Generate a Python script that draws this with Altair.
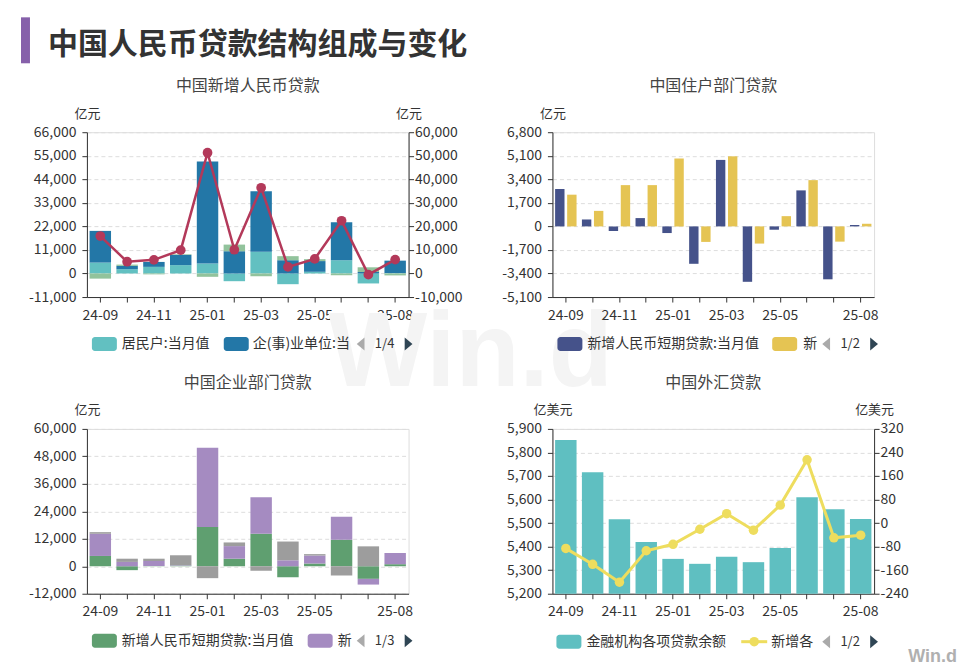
import json
import altair as alt
import pandas as pd

FONT = "Noto Sans CJK SC"
TXT = "#333333"

# ---------------- data ----------------
months = ["24-09", "24-10", "24-11", "24-12", "25-01", "25-02",
          "25-03", "25-04", "25-05", "25-06", "25-07", "25-08"]
label_months = ["24-09", "24-11", "25-01", "25-03", "25-05", "25-08"]

# Panel 1: 中国新增人民币贷款 (亿元)
p1_title = "中国新增人民币贷款"
p1_names = ["居民户:当月值", "企(事)业单位:当月值", "非银行业金融机构:当月值"]
p1_household = [5100, 2000, 3100, 3900, 4650, -3600, 10200, -5000, 800, 6200, -4650, 200]
p1_corporate = [14800, 1550, 2300, 4800, 47700, 10400, 28200, 6200, 5000, 17700, 700, 5800]
p1_nonbank = [-2400, 600, -400, 300, -1550, 3100, -1250, 1900, 900, -800, 2200, -900]
p1_total_name = "新增人民币贷款:当月值"
p1_total = [15900, 5000, 5800, 9900, 51300, 10100, 36400, 2800, 6200, 22400, -500, 5900]
p1_left_ticks = [-11000, 0, 11000, 22000, 33000, 44000, 55000, 66000]
p1_right_ticks = [-10000, 0, 10000, 20000, 30000, 40000, 50000, 60000]
p1_colors = ["#62c0c1", "#2377a7", "#92c39c"]
p1_line_color = "#b3395a"

# Panel 2: 中国住户部门贷款 (亿元)
p2_title = "中国住户部门贷款"
p2_names = ["新增人民币短期贷款:当月值", "新增人民币中长期贷款:当月值"]
p2_short = [2700, 500, -330, 600, -480, -2700, 4800, -4000, -240, 2600, -3820, 100]
p2_long = [2290, 1120, 2980, 2980, 4910, -1120, 5060, -1240, 740, 3340, -1100, 190]
p2_ticks = [-5100, -3400, -1700, 0, 1700, 3400, 5100, 6800]
p2_colors = ["#45528a", "#e5c453"]

# Panel 3: 中国企业部门贷款 (亿元)
p3_title = "中国企业部门贷款"
p3_names = ["新增人民币短期贷款:当月值", "新增人民币中长期贷款:当月值", "票据融资:当月值"]
p3_short = [4500, -1700, 100, 300, 17200, 3300, 14200, -4800, 1200, 11600, -5500, 900]
p3_long = [9700, 1900, 2200, 200, 34600, 5500, 15900, 2600, 3500, 10000, -2500, 4900]
p3_bill = [700, 1400, 1000, 4300, -5200, 1600, -2000, 8200, 600, -4000, 8700, 0]
p3_ticks = [-12000, 0, 12000, 24000, 36000, 48000, 60000]
p3_colors = ["#5f9f70", "#a58bc1", "#9d9d9d"]

# Panel 4: 中国外汇贷款 (亿美元)
p4_title = "中国外汇贷款"
p4_bar_name = "金融机构各项贷款余额"
p4_balance = [5853, 5716, 5516, 5420, 5348, 5327, 5357, 5334, 5394, 5610, 5559, 5517]
p4_line_name = "新增各项贷款"
p4_change = [-86, -140, -201, -94, -72, -21, 32, -24, 61, 215, -50, -41]
p4_left_ticks = [5200, 5300, 5400, 5500, 5600, 5700, 5800, 5900]
p4_right_ticks = [-240, -160, -80, 0, 80, 160, 240, 320]
p4_bar_color = "#5fbfc1"
p4_line_color = "#eedd5e"

main_title = "中国人民币贷款结构组成与变化"

W, H = 322, 165
LABEL_EXPR = "indexof(" + json.dumps(label_months) + ", datum.value) >= 0 ? datum.value : ''"
MINUS_EXPR = "replace(datum.label, '\u2212', '-')"


# ---------------- helpers ----------------
def long_df(names, series):
    rows = []
    for k, (name, vals) in enumerate(zip(names, series)):
        for m, v in zip(months, vals):
            rows.append({"month": m, "series": name, "value": v, "order": k})
    return pd.DataFrame(rows)


def xenc():
    return alt.X(
        "month:N",
        title=None,
        scale=alt.Scale(domain=months, paddingInner=0.2, paddingOuter=0.1),
        axis=alt.Axis(labelExpr=LABEL_EXPR, labelAngle=0, labelOverlap=False,
                      labelColor=TXT, labelFontSize=14, labelPadding=6,
                      domainColor=TXT, tickColor=TXT, tickSize=5, grid=False),
    )


def yaxis(values, orient, title, grid=True):
    return alt.Axis(values=values, orient=orient, format=",.0f", labelExpr=MINUS_EXPR,
                    title=title,
                    titleAngle=0, titleX=0, titleY=-19, titleAlign="center",
                    titleBaseline="middle", titleFontSize=13, titleFontWeight="normal",
                    titleColor=TXT, grid=grid, gridDash=[4, 3], gridColor="#dddddd",
                    domainColor=TXT, tickColor=TXT, tickSize=5,
                    labelColor=TXT, labelFontSize=14,
                    labelPadding=6 if orient == "left" else 1)


def one():
    return alt.Data(values=[{"k": 0}])


def label(text, x, y, size=14, color=TXT, align="left", weight="normal",
          baseline="middle", font=FONT):
    return alt.Chart(one()).mark_text(
        text=text, align=align, baseline=baseline, fontSize=size,
        fontWeight=weight, color=color, font=font,
    ).encode(x=alt.value(x), y=alt.value(y))


def swatch(x, y, color):
    return alt.Chart(one()).mark_rect(color=color, cornerRadius=3).encode(
        x=alt.value(x), x2=alt.value(x + 25), y=alt.value(y - 7), y2=alt.value(y + 7))


TRI_L = "M 0.6 -1 L -0.6 0 L 0.6 1 Z"
TRI_R = "M -0.6 -1 L 0.6 0 L -0.6 1 Z"


def arrow(x, y, path, color):
    return alt.Chart(one()).mark_point(shape=path, filled=True, size=169,
                                       color=color, opacity=1).encode(
        x=alt.value(x), y=alt.value(y))


def pager(y, text):
    return [arrow(274, y, TRI_L, "#aaaaaa"), label(text, 298, y, size=13, align="center"),
            arrow(322, y, TRI_R, "#2f4554")]


def panel_title(text):
    return label(text, W / 2, -46, size=16, color="#444444", align="center")


# ---------------- panel 1 ----------------
df1 = long_df(p1_names, [p1_household, p1_corporate, p1_nonbank])
bars1 = alt.Chart(df1).mark_bar().encode(
    x=xenc(),
    y=alt.Y("value:Q", stack="zero",
            scale=alt.Scale(domain=[-11000, 66000], nice=False, zero=False),
            axis=yaxis(p1_left_ticks, "left", "亿元")),
    color=alt.Color("series:N", scale=alt.Scale(domain=p1_names, range=p1_colors), legend=None),
    order=alt.Order("order:Q", sort="ascending"),
)
df1l = pd.DataFrame({"month": months, "value": p1_total, "series": p1_total_name})
line1 = alt.Chart(df1l).mark_line(
    color=p1_line_color, strokeWidth=2.5,
    point=alt.OverlayMarkDef(filled=True, size=95, color=p1_line_color, opacity=1),
).encode(
    x=xenc(),
    y=alt.Y("value:Q", scale=alt.Scale(domain=[-10000, 60000], nice=False, zero=False),
            axis=yaxis(p1_right_ticks, "right", "亿元", grid=False)),
)

watermark = label("Win.d", 384, 254, size=105, color="#f4f4f4", align="center",
                  weight="bold", baseline="alphabetic", font="Liberation Sans")
header_bar = alt.Chart(one()).mark_rect(color="#8660aa").encode(
    x=alt.value(-66), x2=alt.value(-57), y=alt.value(-115), y2=alt.value(-69))
header_text = label(main_title, -39, -78, size=30, color="#333333", weight="bold",
                    baseline="alphabetic")

p1 = alt.layer(
    watermark, header_bar, header_text, panel_title(p1_title),
    bars1, line1,
    swatch(5, 212, p1_colors[0]), label(p1_names[0], 35, 212),
    swatch(137, 212, p1_colors[1]), label(p1_names[1][:9], 166, 212),
    *pager(212, "1/4"),
).resolve_scale(y="independent").properties(width=W, height=H)

# ---------------- panel 2 ----------------
df2 = long_df(p2_names, [p2_short, p2_long])
bars2 = alt.Chart(df2).mark_bar().encode(
    x=xenc(),
    xOffset=alt.XOffset("series:N", scale=alt.Scale(domain=p2_names, paddingInner=0.22,
                                                     paddingOuter=0)),
    y=alt.Y("value:Q", stack=None,
            scale=alt.Scale(domain=[-5100, 6800], nice=False, zero=False),
            axis=yaxis(p2_ticks, "left", "亿元")),
    y2=alt.Y2Datum(0),
    color=alt.Color("series:N", scale=alt.Scale(domain=p2_names, range=p2_colors), legend=None),
)
p2 = alt.layer(
    panel_title(p2_title), bars2,
    swatch(5, 212, p2_colors[0]), label(p2_names[0], 35, 212),
    swatch(220, 212, p2_colors[1]), label(p2_names[1][:1], 251, 212),
    *pager(212, "1/2"),
).properties(width=W, height=H)

# ---------------- panel 3 ----------------
df3 = long_df(p3_names, [p3_short, p3_long, p3_bill])
bars3 = alt.Chart(df3).mark_bar().encode(
    x=xenc(),
    y=alt.Y("value:Q", stack="zero",
            scale=alt.Scale(domain=[-12000, 60000], nice=False, zero=False),
            axis=yaxis(p3_ticks, "left", "亿元")),
    color=alt.Color("series:N", scale=alt.Scale(domain=p3_names, range=p3_colors), legend=None),
    order=alt.Order("order:Q", sort="ascending"),
)
p3 = alt.layer(
    panel_title(p3_title), bars3,
    swatch(5, 212, p3_colors[0]), label(p3_names[0], 35, 212),
    swatch(221, 212, p3_colors[1]), label(p3_names[1][:1], 251, 212),
    *pager(212, "1/3"),
).properties(width=W, height=H)

# ---------------- panel 4 ----------------
df4 = pd.DataFrame({"month": months, "value": p4_balance, "series": p4_bar_name})
bars4 = alt.Chart(df4).mark_bar(color=p4_bar_color).encode(
    x=xenc(),
    y=alt.Y("value:Q", scale=alt.Scale(domain=[5200, 5900], nice=False, zero=False),
            axis=yaxis(p4_left_ticks, "left", "亿美元")),
    y2=alt.Y2Datum(5200),
)
df4l = pd.DataFrame({"month": months, "value": p4_change, "series": p4_line_name})
line4 = alt.Chart(df4l).mark_line(
    color=p4_line_color, strokeWidth=3,
    point=alt.OverlayMarkDef(filled=True, size=90, color=p4_line_color, opacity=1),
).encode(
    x=xenc(),
    y=alt.Y("value:Q", scale=alt.Scale(domain=[-240, 320], nice=False, zero=False),
            axis=yaxis(p4_right_ticks, "right", "亿美元", grid=False)),
)
leg_line = alt.Chart(one()).mark_rule(color=p4_line_color, strokeWidth=3).encode(
    x=alt.value(189), x2=alt.value(215), y=alt.value(213))
leg_dot = alt.Chart(one()).mark_point(filled=True, size=90, color=p4_line_color,
                                      opacity=1).encode(x=alt.value(202), y=alt.value(213))
logo = label("Win.d", 405, 228, size=18, color="#b0b0b0", align="right", weight="bold",
             font="Liberation Sans")
p4 = alt.layer(
    panel_title(p4_title), bars4, line4,
    swatch(4, 213, p4_bar_color), label(p4_bar_name, 34, 213),
    leg_line, leg_dot, label(p4_line_name[:3], 219, 213),
    *pager(213, "1/2"), logo,
).resolve_scale(y="independent").properties(width=W, height=H)

chart = alt.concat(
    p1, p2, p3, p4, columns=2,
    spacing={"row": 132, "column": 144},
    bounds="flush",
    padding={"left": 20, "top": 16, "right": 2, "bottom": 2},
).resolve_scale(color="independent").configure_view(stroke=None).configure(
    font=FONT, background="white")

chart.save("out.html", embed_options={"renderer": "svg", "actions": False})
